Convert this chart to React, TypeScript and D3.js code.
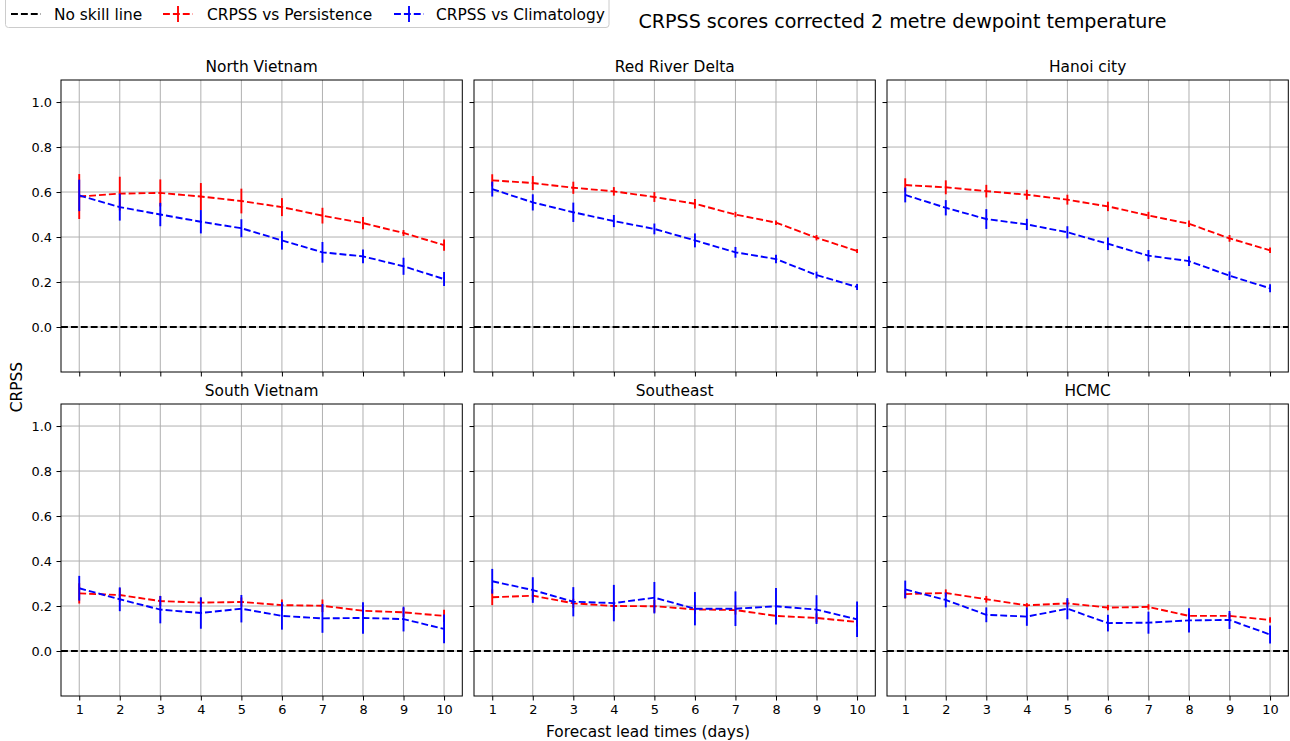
import React, { useRef, useEffect } from 'react'
import * as d3 from 'd3'

const leadTimes = [1, 2, 3, 4, 5, 6, 7, 8, 9, 10]
const yTicks = [0, 0.2, 0.4, 0.6, 0.8, 1.0]
const regions = ['North Vietnam', 'Red River Delta', 'Hanoi city', 'South Vietnam', 'Southeast', 'HCMC']

// CRPSS vs Persistence (mean, half error) per region
const persMean = [
  [0.58, 0.593, 0.596, 0.58, 0.56, 0.533, 0.495, 0.462, 0.418, 0.364],
  [0.652, 0.64, 0.619, 0.603, 0.578, 0.548, 0.5, 0.464, 0.397, 0.338],
  [0.631, 0.621, 0.604, 0.588, 0.566, 0.536, 0.496, 0.459, 0.394, 0.341],
  [0.256, 0.249, 0.222, 0.215, 0.218, 0.204, 0.201, 0.179, 0.172, 0.156],
  [0.239, 0.246, 0.212, 0.2, 0.199, 0.185, 0.182, 0.156, 0.147, 0.129],
  [0.253, 0.258, 0.23, 0.203, 0.212, 0.193, 0.196, 0.156, 0.156, 0.138],
]
const persErr = [
  [0.1, 0.075, 0.06, 0.06, 0.055, 0.04, 0.035, 0.027, 0.013, 0.025],
  [0.027, 0.031, 0.027, 0.019, 0.022, 0.021, 0.012, 0.01, 0.012, 0.009],
  [0.03, 0.031, 0.028, 0.022, 0.022, 0.021, 0.016, 0.015, 0.015, 0.012],
  [0.045, 0.03, 0.022, 0.02, 0.02, 0.025, 0.028, 0.02, 0.02, 0.027],
  [0.035, 0.02, 0.02, 0.02, 0.028, 0.02, 0.02, 0.02, 0.02, 0.02],
  [0.02, 0.016, 0.015, 0.01, 0.015, 0.012, 0.012, 0.012, 0.012, 0.012],
]

// CRPSS vs Climatology (mean, half error) per region
const climMean = [
  [0.585, 0.533, 0.5, 0.468, 0.439, 0.385, 0.332, 0.314, 0.27, 0.213],
  [0.613, 0.554, 0.51, 0.471, 0.436, 0.385, 0.332, 0.302, 0.231, 0.178],
  [0.587, 0.53, 0.48, 0.456, 0.421, 0.37, 0.317, 0.293, 0.228, 0.172],
  [0.279, 0.23, 0.184, 0.169, 0.188, 0.156, 0.145, 0.147, 0.142, 0.098],
  [0.31, 0.271, 0.219, 0.213, 0.237, 0.188, 0.188, 0.199, 0.184, 0.141],
  [0.274, 0.227, 0.161, 0.153, 0.188, 0.124, 0.126, 0.136, 0.138, 0.073],
]
const climErr = [
  [0.07, 0.06, 0.052, 0.052, 0.04, 0.041, 0.046, 0.031, 0.038, 0.031],
  [0.033, 0.036, 0.043, 0.027, 0.024, 0.031, 0.024, 0.019, 0.015, 0.013],
  [0.033, 0.034, 0.044, 0.025, 0.027, 0.028, 0.025, 0.022, 0.019, 0.018],
  [0.055, 0.053, 0.061, 0.07, 0.061, 0.061, 0.064, 0.07, 0.055, 0.064],
  [0.055, 0.057, 0.065, 0.081, 0.07, 0.074, 0.077, 0.081, 0.064, 0.079],
  [0.039, 0.033, 0.033, 0.041, 0.047, 0.037, 0.049, 0.054, 0.04, 0.04],
]

const legendItems = ['No skill line', 'CRPSS vs Persistence', 'CRPSS vs Climatology']
const legendColors = ['black', 'red', 'blue']

const FONT = 'DejaVu Sans, sans-serif'
const DASH = '6.9,3'

const App = () => {
  const chartRef = useRef(null)

  useEffect(() => {
    const el = chartRef.current
    if (!el) return
    d3.select(el).select('svg').remove()

    const W = 1290, H = 741
    const svg = d3.select(el).append('svg')
      .attr('width', W).attr('height', H)
      .style('font-family', FONT)

    const left0 = 61, pw = 401.3, gapX = 11.7
    const top0 = 80, ph = 292, gapY = 32

    regions.forEach((name, i) => {
      const col = i % 3, row = Math.floor(i / 3)
      const x0 = left0 + col * (pw + gapX)
      const y0 = top0 + row * (ph + gapY)

      const x = d3.scaleLinear().domain([0.55, 10.45]).range([x0, x0 + pw])
      const y = d3.scaleLinear().domain([-0.2, 1.098]).range([y0 + ph, y0])

      const g = svg.append('g')

      // grid
      g.selectAll('.gx').data(leadTimes).enter().append('line')
        .attr('x1', d => x(d)).attr('x2', d => x(d))
        .attr('y1', y0).attr('y2', y0 + ph)
        .attr('stroke', '#b0b0b0').attr('stroke-width', 1)
      g.selectAll('.gy').data(yTicks).enter().append('line')
        .attr('x1', x0).attr('x2', x0 + pw)
        .attr('y1', d => y(d)).attr('y2', d => y(d))
        .attr('stroke', '#b0b0b0').attr('stroke-width', 1)

      // no skill line
      g.append('line')
        .attr('x1', x0).attr('x2', x0 + pw)
        .attr('y1', y(0)).attr('y2', y(0))
        .attr('stroke', 'black').attr('stroke-width', 1.875)
        .attr('stroke-dasharray', DASH)

      const series = [
        { mean: persMean[i], err: persErr[i], color: 'red' },
        { mean: climMean[i], err: climErr[i], color: 'blue' },
      ]
      series.forEach(s => {
        const line = d3.line<number>()
          .x((d, k) => x(leadTimes[k]))
          .y(d => y(d))
        g.append('path')
          .datum(s.mean)
          .attr('fill', 'none')
          .attr('stroke', s.color)
          .attr('stroke-width', 1.875)
          .attr('stroke-dasharray', DASH)
          .attr('d', line)
        g.selectAll(null).data(s.mean).enter().append('line')
          .attr('x1', (d, k) => x(leadTimes[k])).attr('x2', (d, k) => x(leadTimes[k]))
          .attr('y1', (d, k) => y(d - s.err[k])).attr('y2', (d, k) => y(d + s.err[k]))
          .attr('stroke', s.color).attr('stroke-width', 1.875)
      })

      // frame
      g.append('rect')
        .attr('x', x0).attr('y', y0).attr('width', pw).attr('height', ph)
        .attr('fill', 'none').attr('stroke', 'black').attr('stroke-width', 1)

      // ticks
      const xAxis = d3.axisBottom(x).tickValues(leadTimes).tickSize(4.5).tickPadding(4.5)
        .tickFormat(row === 1 ? d3.format('d') : () => '')
      const ax = g.append('g').attr('transform', `translate(0,${y0 + ph})`).call(xAxis)
      const yAxis = d3.axisLeft(y).tickValues(yTicks).tickSize(4.5).tickPadding(4.5)
        .tickFormat(col === 0 ? d3.format('.1f') : () => '')
      const ay = g.append('g').attr('transform', `translate(${x0},0)`).call(yAxis)
      ;[ax, ay].forEach(a => {
        a.select('.domain').remove()
        a.selectAll('line').attr('stroke', 'black').attr('stroke-width', 1)
        a.selectAll('text').attr('fill', 'black').style('font-size', '12.9px').style('font-family', FONT)
      })

      g.append('text')
        .attr('x', x0 + pw / 2).attr('y', y0 - 8)
        .attr('text-anchor', 'middle')
        .style('font-size', '15.4px')
        .text(name)
    })

    // axis labels
    svg.append('text')
      .attr('x', 648).attr('y', 737)
      .attr('text-anchor', 'middle').style('font-size', '15.4px')
      .text('Forecast lead times (days)')
    svg.append('text')
      .attr('transform', 'translate(22,387) rotate(-90)')
      .attr('text-anchor', 'middle').style('font-size', '15.4px')
      .text('CRPSS')

    // suptitle
    svg.append('text')
      .attr('x', 902.5).attr('y', 28)
      .attr('text-anchor', 'middle').style('font-size', '19.1px')
      .text('CRPSS scores corrected 2 metre dewpoint temperature')

    // legend
    const lg = svg.append('g')
    lg.append('rect')
      .attr('x', 5.5).attr('y', -10).attr('width', 603.5).attr('height', 37.5)
      .attr('rx', 3).attr('fill', 'white').attr('fill-opacity', 0.8)
      .attr('stroke', '#cccccc').attr('stroke-width', 1)
    const hx = [11, 163, 394]
    const tx = [54, 207, 436]
    legendItems.forEach((label, k) => {
      lg.append('line')
        .attr('x1', hx[k]).attr('x2', hx[k] + 30)
        .attr('y1', 14).attr('y2', 14)
        .attr('stroke', legendColors[k]).attr('stroke-width', 1.875)
        .attr('stroke-dasharray', DASH)
      if (k > 0) {
        lg.append('line')
          .attr('x1', hx[k] + 15).attr('x2', hx[k] + 15)
          .attr('y1', 6).attr('y2', 22)
          .attr('stroke', legendColors[k]).attr('stroke-width', 1.875)
      }
      lg.append('text')
        .attr('x', tx[k]).attr('y', 19.5)
        .style('font-size', '15.4px')
        .text(label)
    })

    return () => { d3.select(el).select('svg').remove() }
  }, [])

  return (
    <div ref={chartRef} style={{ position: 'absolute', left: 0, top: 0, width: 1290, height: 741, background: 'white' }}></div>
  )
}

export default App
